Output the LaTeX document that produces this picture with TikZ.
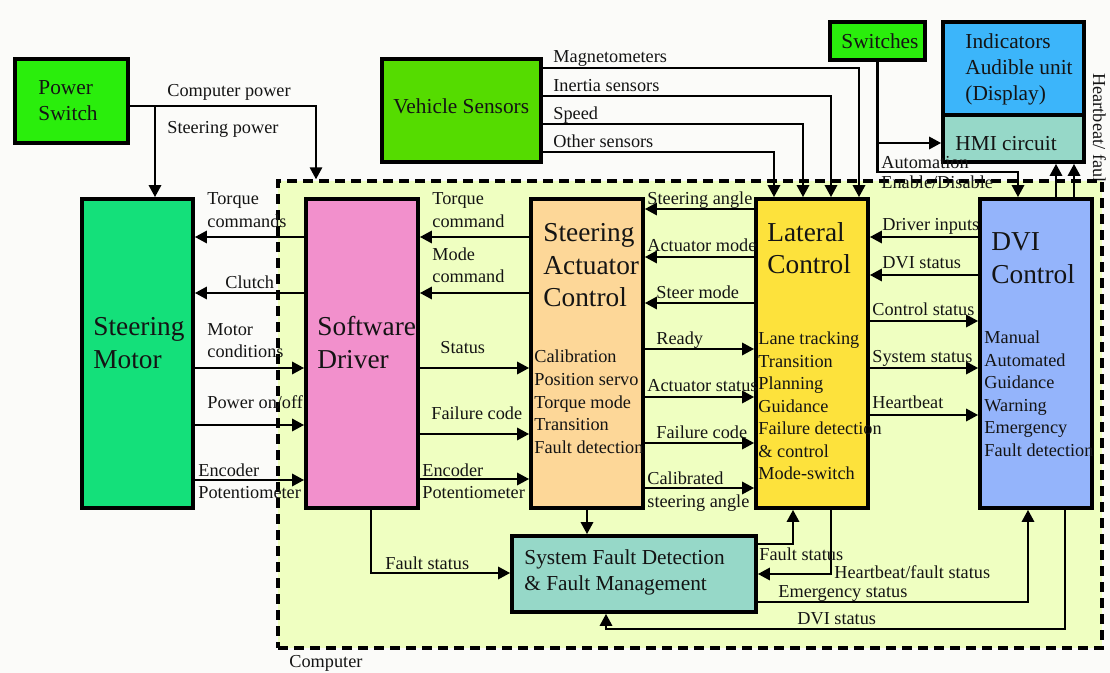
\documentclass[tikz,border=0pt]{standalone}
\usepackage{fontspec}
\setmainfont{Liberation Serif}
\usetikzlibrary{arrows.meta,fit}

\definecolor{pagecol}{RGB}{251,251,249}
\definecolor{compcol}{RGB}{239,255,193}
\definecolor{switchcol}{RGB}{42,238,12}
\definecolor{sensorcol}{RGB}{85,220,0}
\definecolor{motorcol}{RGB}{20,224,122}
\definecolor{drivercol}{RGB}{242,144,204}
\definecolor{actcol}{RGB}{253,215,152}
\definecolor{latcol}{RGB}{253,226,60}
\definecolor{dvicol}{RGB}{148,180,251}
\definecolor{indcol}{RGB}{60,181,250}
\definecolor{hmicol}{RGB}{150,216,200}
\definecolor{inkcol}{RGB}{20,20,20}

\tikzset{every picture/.style={line width=2.1pt},
  blk/.style={draw=black, line width=2.7pt, inner sep=0pt},
  flow/.style={draw=black, line width=2.1pt, -{Triangle[length=9pt,width=9pt]}},
  wire/.style={draw=black, line width=2.1pt},
  lbl/.style={anchor=base west, inner sep=0pt, text=inkcol, font=\fontsize{13.7}{16}\selectfont},
  mid/.style={lbl, font=\fontsize{16}{19}\selectfont},
  ttl/.style={lbl, font=\fontsize{20.5}{24}\selectfont}}

\begin{document}
\begin{tikzpicture}[x=0.75pt,y=0.75pt,yscale=-1,xscale=1]
%page
\useasboundingbox (0,0) rectangle (1110,673);
\fill[pagecol] (0,0) rectangle (1110,673);
%side text, hidden below the computer frame
\begin{scope}
\clip (1080,60) rectangle (1110,181);
\node[lbl, rotate=-90] (hbside) at (1093,72) {Heartbeat/ fault};
\end{scope}
%Computer frame
\node[fit={(278,181) (1102,648)}, inner sep=0pt, fill=compcol, draw=black, line width=2.4pt, dash pattern=on 7.5pt off 4.5pt] (comp) {};
\node[lbl] (comptxt) at (288,667) {Computer};

%Blocks
\node[blk, fill=switchcol, fit={(15,59) (128,143)}] (ps) {};
\node[blk, fill=motorcol, fit={(82,199) (193,508)}] (sm) {};
\node[blk, fill=drivercol, fit={(306,199) (418,508)}] (sd) {};
\node[blk, fill=actcol, fit={(531,199) (643,508)}] (sac) {};
\node[blk, fill=latcol, fit={(756,199) (868,508)}] (lc) {};
\node[blk, fill=dvicol, fit={(980,199) (1092,508)}] (dvi) {};
\node[blk, fill=hmicol, fit={(512,536) (756,612)}] (sfd) {};
\node[blk, fill=sensorcol, fit={(382,59) (541,162)}] (vs) {};
\node[blk, fill=switchcol, fit={(830,22) (925,60)}] (sw) {};
\node[blk, fill=indcol, fit={(943,22) (1084,115)}] (ind) {};
\node[blk, fill=hmicol, fit={(943,115) (1084,162)}] (hmi) {};

%Block texts
\node[mid] (psA) at (37,95) {Power};
\node[mid] (psB) at (37,121) {Switch};
\node[mid] (vsA) at (392,114) {Vehicle Sensors};
\node[mid] (swA) at (840,49) {Switches};
\node[mid] (indA) at (964,49) {Indicators};
\node[mid] (indB) at (964,75) {Audible unit};
\node[mid] (indC) at (964,101) {(Display)};
\node[mid] (hmiA) at (954,151) {HMI circuit};
\node[mid] (sfdA) at (523,564) {System Fault Detection};
\node[mid] (sfdB) at (523,590) {\& Fault Management};
\node[ttl] (smA) at (92,336) {Steering};
\node[ttl] (smB) at (92,369) {Motor};
\node[ttl] (sdA) at (316,336) {Software};
\node[ttl] (sdB) at (316,369) {Driver};
\node[ttl] (sacA) at (542,242) {Steering};
\node[ttl] (sacB) at (542,275) {Actuator};
\node[ttl] (sacC) at (542,307) {Control};
\node[ttl] (lcA) at (766,242) {Lateral};
\node[ttl] (lcB) at (766,274) {Control};
\node[ttl] (dviA) at (990,251) {DVI};
\node[ttl] (dviB) at (990,284) {Control};
\node[lbl] (sacL1) at (533,363) {Calibration};
\node[lbl] (sacL2) at (533,385.5) {Position servo};
\node[lbl] (sacL3) at (533,408) {Torque mode};
\node[lbl] (sacL4) at (533,430.5) {Transition};
\node[lbl] (sacL5) at (533,453) {Fault detection};
\node[lbl] (lcL1) at (757,345) {Lane tracking};
\node[lbl] (lcL2) at (757,367.4) {Transition};
\node[lbl] (lcL3) at (757,389.8) {Planning};
\node[lbl] (lcL4) at (757,412.2) {Guidance};
\node[lbl] (lcL5) at (757,434.6) {Failure detection};
\node[lbl] (lcL6) at (757,457) {\& control};
\node[lbl] (lcL7) at (757,479.4) {Mode-switch};
\node[lbl] (dviL1) at (983,344) {Manual};
\node[lbl] (dviL2) at (983,366.4) {Automated};
\node[lbl] (dviL3) at (983,388.8) {Guidance};
\node[lbl] (dviL4) at (983,411.2) {Warning};
\node[lbl] (dviL5) at (983,433.6) {Emergency};
\node[lbl] (dviL6) at (983,456) {Fault detection};

%Power lines
\draw[flow] (ps.east |- 0,106) -| (316,0 |- comp.north);
\draw[flow] (155,106) -- (155,0 |- sm.north);
%Sensor lines
\draw[flow] (vs.east |- 0,68) -| (859,0 |- lc.north);
\draw[flow] (vs.east |- 0,96) -| (831,0 |- lc.north);
\draw[flow] (vs.east |- 0,124) -| (803,0 |- lc.north);
\draw[flow] (vs.east |- 0,152) -| (774,0 |- lc.north);
%Switches and HMI
\draw[flow] (sw.south) |- (1018,172) -- (1018,0 |- dvi.north);
\draw[flow] (877,143) -- (hmi.west |- 0,143);
\draw[flow] (1056,0 |- dvi.north) -- (1056,0 |- hmi.south);
\draw[flow] (1074,0 |- dvi.north) -- (1074,0 |- hmi.south);
%Motor <-> driver
\draw[flow] (sd.west |- 0,237) -- (sm.east |- 0,237);
\draw[flow] (sd.west |- 0,293) -- (sm.east |- 0,293);
\draw[flow] (sm.east |- 0,368) -- (sd.west |- 0,368);
\draw[flow] (sm.east |- 0,425) -- (sd.west |- 0,425);
\draw[flow] (sm.east |- 0,480) -- (sd.west |- 0,480);
%Driver <-> actuator control
\draw[flow] (sac.west |- 0,237) -- (sd.east |- 0,237);
\draw[flow] (sac.west |- 0,293) -- (sd.east |- 0,293);
\draw[flow] (sd.east |- 0,368) -- (sac.west |- 0,368);
\draw[flow] (sd.east |- 0,434) -- (sac.west |- 0,434);
\draw[flow] (sd.east |- 0,479) -- (sac.west |- 0,479);
%Actuator control <-> lateral control
\draw[flow] (lc.west |- 0,209) -- (sac.east |- 0,209);
\draw[flow] (lc.west |- 0,257) -- (sac.east |- 0,257);
\draw[flow] (lc.west |- 0,303) -- (sac.east |- 0,303);
\draw[flow] (sac.east |- 0,349) -- (lc.west |- 0,349);
\draw[flow] (sac.east |- 0,397) -- (lc.west |- 0,397);
\draw[flow] (sac.east |- 0,443) -- (lc.west |- 0,443);
\draw[flow] (sac.east |- 0,488) -- (lc.west |- 0,488);
%Lateral control <-> DVI
\draw[flow] (dvi.west |- 0,237) -- (lc.east |- 0,237);
\draw[flow] (dvi.west |- 0,275) -- (lc.east |- 0,275);
\draw[flow] (lc.east |- 0,321) -- (dvi.west |- 0,321);
\draw[flow] (lc.east |- 0,368) -- (dvi.west |- 0,368);
\draw[flow] (lc.east |- 0,415) -- (dvi.west |- 0,415);
%Fault management
\draw[flow] (371,0 |- sd.south) |- (sfd.west |- 0,573);
\draw[flow] (sac.south) -- (sac.south |- sfd.north);
\draw[flow] (sfd.east |- 0,544) -| (793,0 |- lc.south);
\draw[flow] (831,0 |- lc.south) |- (sfd.east |- 0,574);
\draw[flow] (sfd.east |- 0,602) -| (1028,0 |- dvi.south);
\draw[flow] (1065,0 |- dvi.south) -- (1065,629) -| (606,0 |- sfd.south);

%Connector labels
\node[lbl] (tCp) at (166,97) {Computer power};
\node[lbl] (tSp) at (166,134) {Steering power};
\node[lbl] (tMag) at (552,63) {Magnetometers};
\node[lbl] (tIn) at (552,92) {Inertia sensors};
\node[lbl] (tSpd) at (552,120) {Speed};
\node[lbl] (tOth) at (552,148) {Other sensors};
\node[lbl] (tAut) at (880,169) {Automation};
\node[lbl] (tEn) at (880,189) {Enable/Disable};
\node[lbl] (tTqA) at (206,205) {Torque};
\node[lbl] (tTqB) at (206,228) {commands};
\node[lbl] (tCl) at (224,289) {Clutch};
\node[lbl] (tMcA) at (206,336) {Motor};
\node[lbl] (tMcB) at (206,358) {conditions};
\node[lbl] (tPw) at (206,409) {Power on/off};
\node[lbl] (tEnA) at (197,476) {Encoder};
\node[lbl] (tEnB) at (197,498) {Potentiometer};
\node[lbl] (tTcA) at (431,205) {Torque};
\node[lbl] (tTcB) at (431,228) {command};
\node[lbl] (tMdA) at (431,261) {Mode};
\node[lbl] (tMdB) at (431,283) {command};
\node[lbl] (tSt) at (439,354) {Status};
\node[lbl] (tFc) at (430,420) {Failure code};
\node[lbl] (tEcA) at (421,476) {Encoder};
\node[lbl] (tEcB) at (421,498) {Potentiometer};
\node[lbl] (tSa) at (646,205) {Steering angle};
\node[lbl] (tAm) at (646,252) {Actuator mode};
\node[lbl] (tSm) at (655,299) {Steer mode};
\node[lbl] (tRd) at (655,345) {Ready};
\node[lbl] (tAs) at (646,392) {Actuator status};
\node[lbl] (tFc2) at (655,439) {Failure code};
\node[lbl] (tCaA) at (646,484) {Calibrated};
\node[lbl] (tCaB) at (646,507) {steering angle};
\node[lbl] (tDi) at (881,231) {Driver inputs};
\node[lbl] (tDs) at (881,269) {DVI status};
\node[lbl] (tCs) at (871,316) {Control status};
\node[lbl] (tSs) at (871,363) {System status};
\node[lbl] (tHb) at (871,409) {Heartbeat};
\node[lbl] (tFs) at (384,569) {Fault status};
\node[lbl] (tFs2) at (758,560) {Fault status};
\node[lbl] (tHf) at (833,578) {Heartbeat/fault status};
\node[lbl] (tEs) at (777,597) {Emergency status};
\node[lbl] (tDs2) at (796,624) {DVI status};
\end{tikzpicture}
\end{document}
